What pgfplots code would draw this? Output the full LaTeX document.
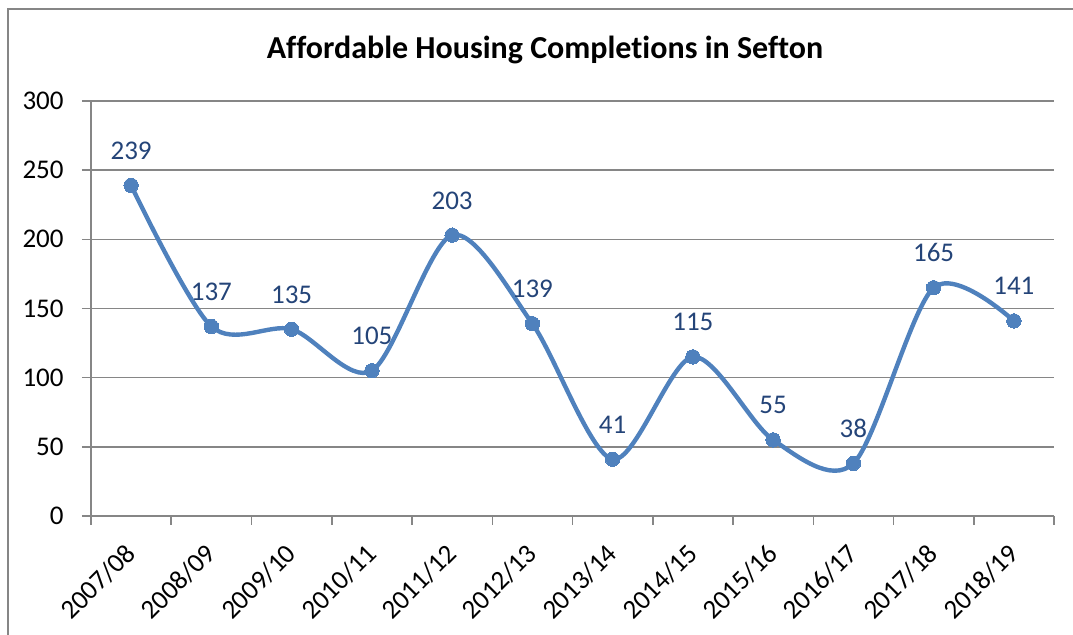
\documentclass[border=0pt]{standalone}
\usepackage{pgfplots}
\pgfplotsset{compat=1.18}
\usepackage{fontspec}
\setmainfont{Carlito}[Ligatures=NoCommon]
\definecolor{linecol}{RGB}{79,129,189}
\definecolor{labcol}{RGB}{36,68,120}
\definecolor{gridcol}{RGB}{134,134,134}
\begin{document}
\begin{tikzpicture}
\useasboundingbox (-45.5pt,-59.5pt) rectangle (491pt,258pt);
\draw[gridcol, line width=0.75pt] (-41.5pt,-62pt) -- (-41.5pt,253.5pt) -- (494pt,253.5pt);
\node[font=\fontsize{16}{19}\selectfont\bfseries] at (227pt,233pt) {Affordable Housing Completions in Sefton};
\begin{axis}[
  at={(0pt,0pt)}, anchor=south west,
  scale only axis, width=481.5pt, height=207.5pt,
  xmin=0.5, xmax=12.5, ymin=0, ymax=300,
  axis x line*=bottom, axis y line*=left,
  axis line style={gridcol, line width=0.75pt},
  every tick/.style={gridcol, line width=0.75pt},
  tick align=outside,
  major tick length=4.5pt,
  ytick={0,50,...,300},
  ymajorgrids, grid style={gridcol, line width=0.75pt},
  xtick={0.5,1.5,...,12.5}, xticklabels={},
  extra x ticks={1,2,3,4,5,6,7,8,9,10,11,12},
  extra x tick labels={2007/08,2008/09,2009/10,2010/11,2011/12,2012/13,2013/14,2014/15,2015/16,2016/17,2017/18,2018/19},
  extra x tick style={major tick length=0pt, grid=none,
    xticklabel style={yshift=-16.5pt, xshift=0pt, rotate=45, anchor=east, inner sep=0pt}},
  tick label style={font=\fontsize{13.5}{16}\selectfont, text=black},
  yticklabel style={anchor=east, inner sep=0pt, xshift=-9pt},
  /pgf/number format/assume math mode=true,
  clip=false,
  nodes near coords,
  every node near coord/.append style={anchor=base, yshift=13pt, inner sep=0pt, font=\fontsize{13.5}{16}\selectfont, text=labcol},
]
\addplot[linecol, line width=2.2pt, smooth, mark=*, mark size=3.6pt, mark options={fill=linecol, draw=linecol, line width=0pt}]
coordinates {(1,239) (2,137) (3,135) (4,105) (5,203) (6,139) (7,41) (8,115) (9,55) (10,38) (11,165) (12,141)};
\end{axis}
\end{tikzpicture}
\end{document}
